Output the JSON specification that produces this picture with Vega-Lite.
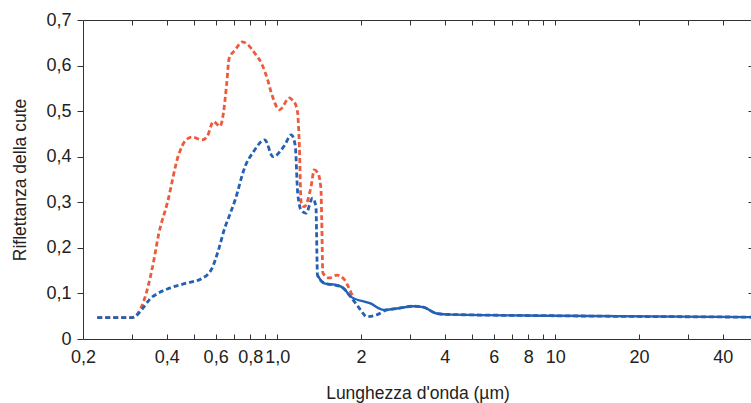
{
  "$schema": "https://vega.github.io/schema/vega-lite/v6.json",
  "width": 669,
  "height": 319,
  "autosize": "none",
  "padding": {"left": 83, "top": 20, "right": 0, "bottom": 64},
  "config": {
    "view": {"stroke": "#333333", "strokeWidth": 1},
    "font": "Liberation Sans",
    "axis": {
      "labelFont": "Liberation Sans",
      "titleFont": "Liberation Sans",
      "labelFontSize": 18,
      "titleFontSize": 17.5,
      "titleFontWeight": "normal",
      "labelColor": "#222222",
      "titleColor": "#222222",
      "domain": false,
      "tickColor": "#333333",
      "grid": false
    }
  },
  "datasets": {
    "rossa": [
      {"x": 0.225, "y": 0.047}, {"x": 0.30, "y": 0.047}, {"x": 0.332, "y": 0.086},
      {"x": 0.356, "y": 0.159}, {"x": 0.375, "y": 0.232}, {"x": 0.402, "y": 0.298},
      {"x": 0.442, "y": 0.405}, {"x": 0.467, "y": 0.435}, {"x": 0.494, "y": 0.443},
      {"x": 0.536, "y": 0.437}, {"x": 0.559, "y": 0.444}, {"x": 0.589, "y": 0.477},
      {"x": 0.623, "y": 0.467}, {"x": 0.640, "y": 0.496}, {"x": 0.658, "y": 0.562},
      {"x": 0.671, "y": 0.616}, {"x": 0.705, "y": 0.634}, {"x": 0.748, "y": 0.652},
      {"x": 0.786, "y": 0.645}, {"x": 0.830, "y": 0.627}, {"x": 0.877, "y": 0.605},
      {"x": 0.924, "y": 0.568}, {"x": 0.952, "y": 0.540}, {"x": 1.019, "y": 0.503},
      {"x": 1.106, "y": 0.529}, {"x": 1.130, "y": 0.525}, {"x": 1.169, "y": 0.511},
      {"x": 1.184, "y": 0.495}, {"x": 1.201, "y": 0.420}, {"x": 1.218, "y": 0.300},
      {"x": 1.251, "y": 0.290}, {"x": 1.322, "y": 0.334}, {"x": 1.358, "y": 0.371},
      {"x": 1.400, "y": 0.364}, {"x": 1.435, "y": 0.330}, {"x": 1.445, "y": 0.260},
      {"x": 1.458, "y": 0.145}, {"x": 1.536, "y": 0.134}, {"x": 1.640, "y": 0.140},
      {"x": 1.740, "y": 0.131}, {"x": 1.800, "y": 0.115}, {"x": 1.870, "y": 0.092}
    ],
    "blu": [
      {"x": 0.225, "y": 0.047}, {"x": 0.30, "y": 0.047}, {"x": 0.356, "y": 0.093},
      {"x": 0.407, "y": 0.111}, {"x": 0.467, "y": 0.122}, {"x": 0.536, "y": 0.133},
      {"x": 0.582, "y": 0.155}, {"x": 0.614, "y": 0.195}, {"x": 0.649, "y": 0.246},
      {"x": 0.667, "y": 0.265}, {"x": 0.705, "y": 0.305}, {"x": 0.765, "y": 0.378},
      {"x": 0.819, "y": 0.410}, {"x": 0.901, "y": 0.437}, {"x": 0.965, "y": 0.400},
      {"x": 1.062, "y": 0.425}, {"x": 1.122, "y": 0.448}, {"x": 1.160, "y": 0.425},
      {"x": 1.184, "y": 0.320}, {"x": 1.218, "y": 0.283}, {"x": 1.269, "y": 0.276},
      {"x": 1.339, "y": 0.309}, {"x": 1.377, "y": 0.290}, {"x": 1.395, "y": 0.140},
      {"x": 1.474, "y": 0.123}, {"x": 1.691, "y": 0.115}, {"x": 1.835, "y": 0.093},
      {"x": 1.993, "y": 0.064}, {"x": 2.098, "y": 0.049}, {"x": 2.278, "y": 0.053},
      {"x": 2.479, "y": 0.064}, {"x": 2.691, "y": 0.067}, {"x": 3.085, "y": 0.072},
      {"x": 3.350, "y": 0.070}, {"x": 3.736, "y": 0.056}, {"x": 4.055, "y": 0.054},
      {"x": 10, "y": 0.051}, {"x": 51, "y": 0.048}
    ],
    "blucont": [
      {"x": 1.395, "y": 0.140}, {"x": 1.474, "y": 0.122}, {"x": 1.644, "y": 0.118},
      {"x": 1.737, "y": 0.111}, {"x": 1.835, "y": 0.093}, {"x": 2.163, "y": 0.078},
      {"x": 2.412, "y": 0.064}, {"x": 2.691, "y": 0.067}, {"x": 3.085, "y": 0.072},
      {"x": 3.350, "y": 0.070}, {"x": 3.736, "y": 0.056}, {"x": 4.055, "y": 0.054},
      {"x": 10, "y": 0.051}, {"x": 51, "y": 0.048}
    ]
  },
  "layer": [
    {
      "data": {"name": "rossa"},
      "mark": {"type": "line", "color": "#EE5A3C", "strokeWidth": 2.8, "strokeDash": [5, 3], "interpolate": "monotone", "clip": true},
      "encoding": {
        "x": {
          "field": "x", "type": "quantitative",
          "scale": {"type": "log", "domain": [0.2, 51], "nice": false},
          "axis": {
            "orient": "bottom",
            "title": "Lunghezza d'onda (µm)",
            "titlePadding": 18,
            "values": [0.2, 0.3, 0.4, 0.5, 0.6, 0.7, 0.8, 0.9, 1, 2, 3, 4, 5, 6, 7, 8, 9, 10, 20, 30, 40],
            "labelExpr": "indexof([0.2,0.4,0.6,0.8,1,2,4,6,8,10,20,40], datum.value) < 0 ? '' : (datum.value < 1.5 ? replace(format(datum.value, '.1f'), '.', ',') : format(datum.value, 'd'))",
            "labelOverlap": false,
            "labelFlush": false,
            "ticks": false,
            "labelPadding": 9,
            "grid": true,
            "gridColor": "#333333",
            "gridWidth": 1,
            "gridOpacity": 1,
            "gridDash": [5, 309, 5, 1000]
          }
        },
        "y": {
          "field": "y", "type": "quantitative",
          "scale": {"domain": [0, 0.7], "nice": false},
          "axis": {
            "orient": "left",
            "title": "Riflettanza della cute",
            "titlePadding": 16,
            "values": [0, 0.1, 0.2, 0.3, 0.4, 0.5, 0.6, 0.7],
            "labelExpr": "datum.value == 0 ? '0' : replace(format(datum.value, '.1f'), '.', ',')",
            "tickSize": 6,
            "labelPadding": 6
          }
        }
      }
    },
    {
      "data": {"name": "blucont"},
      "mark": {"type": "line", "color": "#2460B4", "strokeWidth": 2.4, "interpolate": "monotone", "clip": true},
      "encoding": {
        "x": {"field": "x", "type": "quantitative", "axis": null},
        "y": {
          "field": "y", "type": "quantitative",
          "axis": {
            "orient": "right",
            "title": null,
            "labels": false,
            "values": [0.1, 0.2, 0.3, 0.4, 0.5, 0.6],
            "tickSize": -4
          }
        }
      }
    },
    {
      "data": {"name": "blu"},
      "mark": {"type": "line", "color": "#2460B4", "strokeWidth": 2.8, "strokeDash": [5, 3], "interpolate": "monotone", "clip": true},
      "encoding": {
        "x": {"field": "x", "type": "quantitative", "axis": null},
        "y": {"field": "y", "type": "quantitative", "axis": null}
      }
    }
  ],
  "resolve": {"axis": {"x": "independent", "y": "independent"}}
}
